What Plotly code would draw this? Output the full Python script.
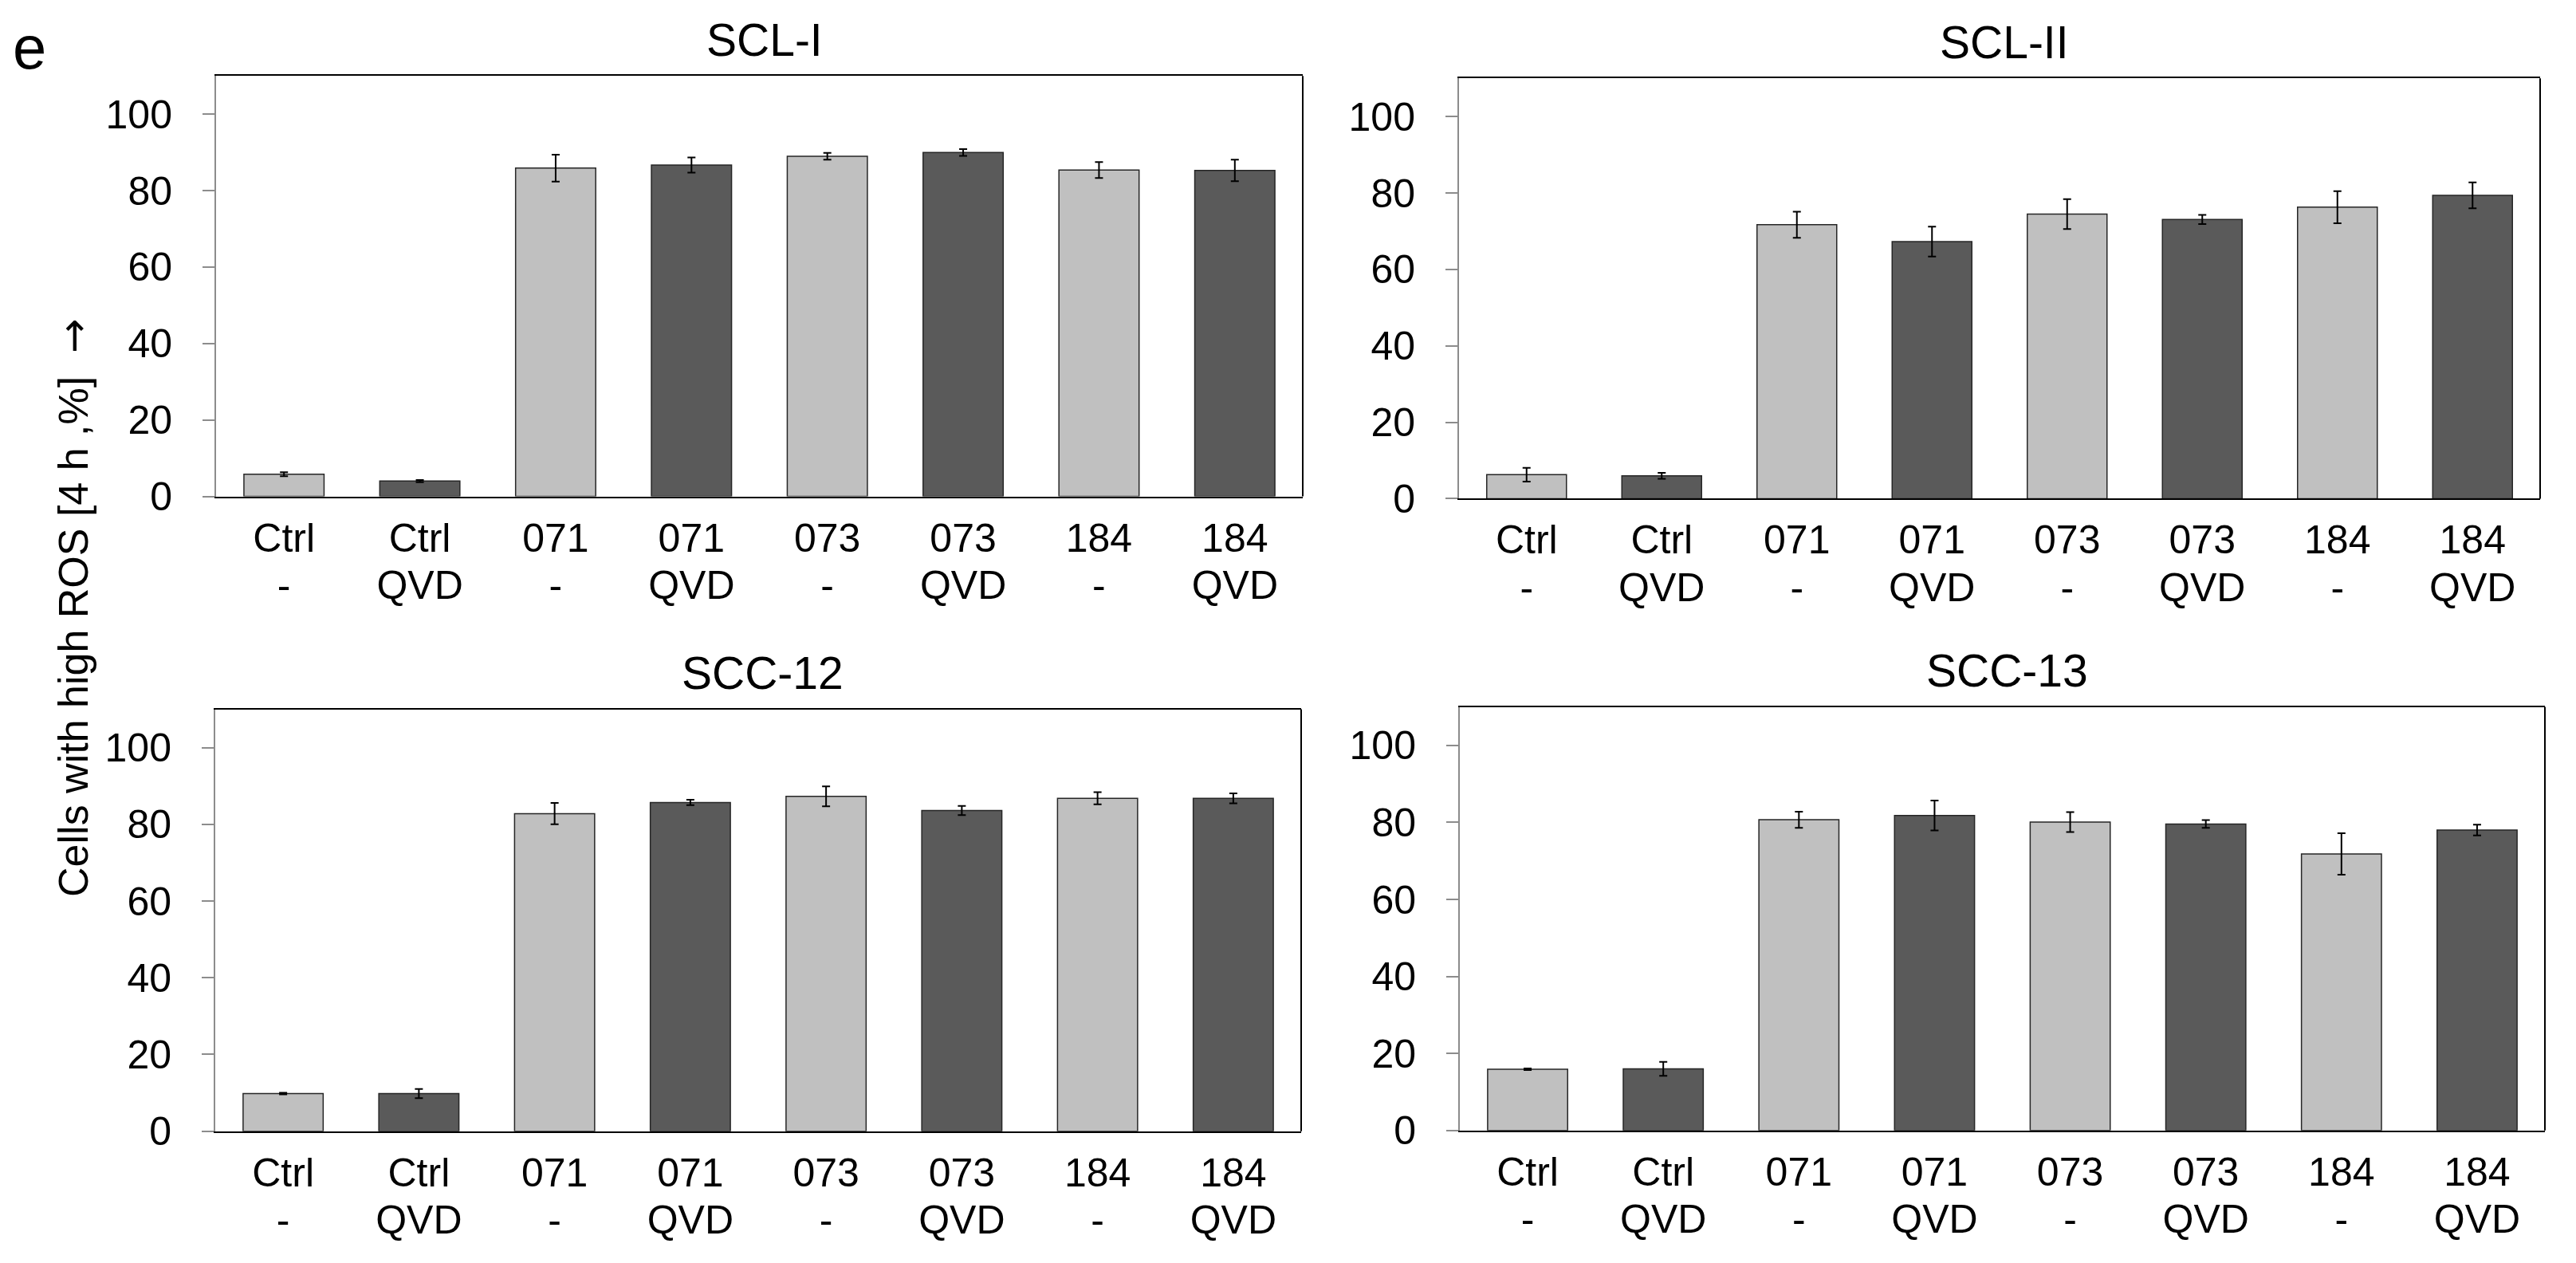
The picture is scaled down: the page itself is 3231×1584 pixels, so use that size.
import plotly.graph_objects as go

# ---------------- data ----------------
panel_titles = ["SCL-I", "SCL-II", "SCC-12", "SCC-13"]
compound = ["Ctrl", "Ctrl", "071", "071", "073", "073", "184", "184"]
treatment = ["-", "QVD", "-", "QVD", "-", "QVD", "-", "QVD"]

scl1_mean = [5.8, 4.0, 85.9, 86.7, 89.0, 90.0, 85.4, 85.3]
scl1_err = [0.5, 0.3, 3.5, 2.0, 0.9, 0.9, 2.1, 2.8]

scl2_mean = [6.3, 6.0, 71.7, 67.3, 74.5, 73.1, 76.3, 79.4]
scl2_err = [1.8, 0.8, 3.4, 3.9, 3.9, 1.2, 4.2, 3.4]

scc12_mean = [9.8, 9.8, 82.8, 85.7, 87.3, 83.6, 86.8, 86.8]
scc12_err = [0.2, 1.2, 2.8, 0.7, 2.6, 1.2, 1.6, 1.3]

scc13_mean = [15.9, 16.0, 80.7, 81.8, 80.1, 79.6, 71.8, 78.0]
scc13_err = [0.2, 1.8, 2.1, 3.9, 2.6, 1.0, 5.4, 1.4]

y_ticks = [0, 20, 40, 60, 80, 100]
y_title = "Cells with high ROS [4 h ,%]  <span style='font-family:DejaVu Sans'>\u2192</span>"
panel_letter = "e"

means = [scl1_mean, scl2_mean, scc12_mean, scc13_mean]
errs = [scl1_err, scl2_err, scc12_err, scc13_err]

# ---------------- layout ----------------
W, H = 3231, 1584
# pixel boxes: left, right, top, bottom (y = 0)
boxes = [
    (263, 1626, 89, 626),
    (1822, 3178, 92, 629),
    (262, 1624, 898, 1437),
    (1823, 3184, 895, 1436),
]
LINE2_OFFSET = 72  # px between the two rows of category labels

LIGHT = "#c0c0c0"
DARK = "#5a5a5a"
bar_colors = [LIGHT if t == "-" else DARK for t in treatment]
x_pos = list(range(len(compound)))

FONT = "Liberation Sans, Arial, Helvetica, sans-serif"
CAT_SIZE = 50

fig = go.Figure()
layout = dict(
    width=W, height=H,
    margin=dict(l=0, r=0, t=0, b=0),
    paper_bgcolor="white", plot_bgcolor="white",
    font=dict(family=FONT, color="black", size=50),
    showlegend=False,
)
annotations = []
shapes = []

for i in range(4):
    n = i + 1
    xa = "x" if n == 1 else f"x{n}"
    ya = "y" if n == 1 else f"y{n}"
    xa2 = f"x{n + 4}"
    l, r, t, b = boxes[i]
    fig.add_trace(go.Bar(
        x=x_pos, y=means[i],
        xaxis=xa, yaxis=ya,
        width=0.59,
        marker=dict(color=bar_colors, line=dict(color="#262626", width=1.5)),
        error_y=dict(type="data", array=errs[i], visible=True,
                     color="black", thickness=2, width=5),
        showlegend=False,
        hoverinfo="y",
    ))
    # invisible companion trace so the second label row axis is drawn
    fig.add_trace(go.Scatter(
        x=x_pos, y=means[i], xaxis=xa2, yaxis=ya,
        mode="markers", marker=dict(opacity=0, size=1),
        hoverinfo="skip", showlegend=False,
    ))
    layout[f"xaxis{'' if n == 1 else n}"] = dict(
        domain=[l / W, r / W], anchor=ya,
        range=[-0.5, 7.5], tickvals=x_pos, ticktext=compound,
        showline=True, linecolor="black", linewidth=2, mirror=True,
        ticks="", showgrid=False, zeroline=False, tickangle=0,
        tickfont=dict(size=CAT_SIZE, family=FONT, color="black"),
        ticklabelstandoff=7,
        fixedrange=True,
    )
    # second row of category labels (treatment)
    layout[f"xaxis{n + 4}"] = dict(
        overlaying=xa, anchor="free",
        position=1 - (b + LINE2_OFFSET) / H,
        range=[-0.5, 7.5], tickvals=x_pos, ticktext=treatment,
        showline=False, ticks="", showgrid=False, zeroline=False, tickangle=0,
        tickfont=dict(size=CAT_SIZE, family=FONT, color="black"),
        ticklabelstandoff=7,
        fixedrange=True,
    )
    layout[f"yaxis{'' if n == 1 else n}"] = dict(
        domain=[1 - b / H, 1 - t / H], anchor=xa,
        range=[0, 110], tickvals=y_ticks,
        showline=True, linecolor="#8c8c8c", linewidth=2,
        ticks="outside", ticklen=15, tickwidth=2, tickcolor="#8c8c8c",
        showgrid=False, zeroline=False,
        tickfont=dict(size=50, family=FONT, color="black"),
        ticklabelstandoff=28,
        fixedrange=True,
    )
    # right border of the frame (black)
    shapes.append(dict(type="line", xref=f"{xa} domain", yref=f"{ya} domain",
                       x0=1, x1=1, y0=0, y1=1,
                       line=dict(color="black", width=2)))
    # panel title
    annotations.append(dict(
        text=panel_titles[i], xref="paper", yref="paper",
        x=((l + r) / 2 + 6) / W, y=1 - (t - 12) / H,
        xanchor="center", yanchor="bottom", showarrow=False,
        font=dict(size=57, family=FONT, color="black"),
    ))

# shared y-axis title
annotations.append(dict(
    text=y_title, xref="paper", yref="paper",
    x=84 / W, y=1 - 768 / H, xanchor="center", yanchor="middle",
    textangle=-90, showarrow=False,
    font=dict(size=52, family=FONT, color="black"),
))
# panel letter
annotations.append(dict(
    text=panel_letter, xref="paper", yref="paper",
    x=6 / W, y=1 - 98 / H, xanchor="left", yanchor="bottom",
    showarrow=False,
    font=dict(size=76, family=FONT, color="black"),
))

layout["annotations"] = annotations
layout["shapes"] = shapes
fig.update_layout(**layout)
fig.write_html("out.html")
